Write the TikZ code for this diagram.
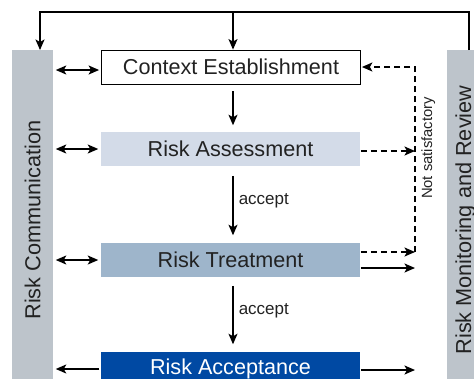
\documentclass[tikz,border=0pt]{standalone}
\usepackage{fontspec}
\setmainfont{Liberation Sans}
\usetikzlibrary{arrows.meta}
\definecolor{bargray}{HTML}{BDC4CB}
\definecolor{assess}{HTML}{D3DBE8}
\definecolor{treat}{HTML}{9EB5CB}
\definecolor{accblue}{HTML}{0049A3}
\definecolor{txt}{HTML}{222222}
\begin{document}
\begin{tikzpicture}[x=1pt,y=-1pt,
  >={Stealth[length=10.5pt,width=9pt,inset=2.5pt]},
  line width=1.5pt,
  box/.style={minimum width=259pt, minimum height=34pt, inner sep=0pt,
    font=\fontsize{21.6}{24}\selectfont, text=txt},
  bar/.style={rotate=90, minimum width=340pt, inner sep=0pt, fill=bargray,
    font=\fontsize{21.7}{24}\selectfont, text=txt},
  lbl/.style={font=\fontsize{17}{20}\selectfont, text=txt, inner sep=0pt},
  dashline/.style={dash pattern=on 6pt off 4pt}
]
\useasboundingbox (0,0) rectangle (474,378);
\clip (0,0) rectangle (474,378);

% side bars
\node[bar, minimum height=41pt] (comm) at (32.5,220) {Risk Communication};
\node[bar, minimum height=38pt] (mon) at (465.5,220) {Risk Monitoring and Review};

% process boxes
\node[box, draw=black, line width=0.8pt, fill=white] (ctx) at (231,67) {Context Establishment};
\node[box, fill=assess] (ass) at (230.5,149) {Risk Assessment};
\node[box, fill=treat] (trt) at (230.5,260) {Risk Treatment};
\node[box, fill=accblue, text=white] (acc) at (230.5,369) {Risk Acceptance};

% top loop
\coordinate (tl) at (40,12);
\coordinate (tm) at (233,12);
\coordinate (tr) at (469,12);
\coordinate (bl) at (40,50);
\coordinate (br) at (469,50);
\draw[->] (br) -- (tr) -- (tl) -- (bl);
\draw[->] (tm) -- (ctx.north -| tm);

% vertical flow
\draw[->, shorten <=7pt, shorten >=6pt] (ctx.south -| tm) -- (ass.north -| tm);
\draw[->, shorten <=9pt, shorten >=7pt] (ass.south -| tm) -- (trt.north -| tm)
  node[lbl, pos=0.45, anchor=west, xshift=5pt] {accept};
\draw[->, shorten <=8pt, shorten >=7pt] (trt.south -| tm) -- (acc.north -| tm)
  node[lbl, pos=0.45, anchor=west, xshift=5pt] {accept};

% communication arrows
\draw[<->, shorten <=2pt, shorten >=2pt] ([yshift=-3pt]ctx.west -| comm.south) -- ([yshift=-3pt]ctx.west);
\draw[<->, shorten <=2pt, shorten >=2pt] (ass.west -| comm.south) -- (ass.west);
\draw[<->, shorten <=2pt, shorten >=2pt] (trt.west -| comm.south) -- (trt.west);
\draw[->, shorten <=1pt, shorten >=2pt] (acc.west) -- (acc.west -| comm.south);

% monitoring side
\coordinate (d1) at (415,67);
\coordinate (d2) at (415,151);
\coordinate (d3) at (415,252);
\coordinate (s3) at (415,268);
\coordinate (s4) at (415,370);
\draw[dashline, ->] (ass.east |- d2) -- (d2);
\draw[dashline, ->] (trt.east |- d3) -- (d3);
\draw[dashline, ->, shorten >=1pt] (d3) -- (d1) -- (ctx.east |- d1);
\node[rotate=90, anchor=base, inner sep=0pt, font=\fontsize{14.8}{17}\selectfont, text=txt]
  (ns) at (432,148) {Not satisfactory};
\draw[->] (trt.east |- s3) -- (s3);
\draw[->] (acc.east |- s4) -- (s4);
\end{tikzpicture}
\end{document}
